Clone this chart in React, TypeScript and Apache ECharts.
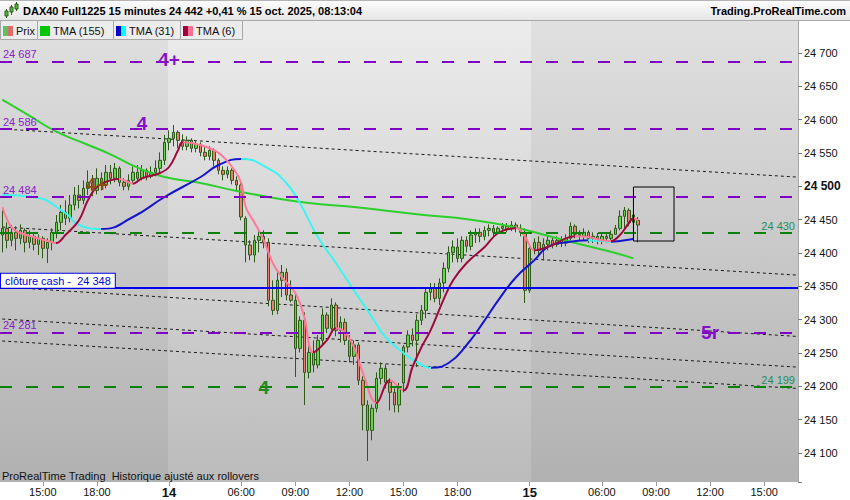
import React, { useEffect, useRef } from 'react';
import * as echarts from 'echarts';

const FONT = '"Liberation Sans", Arial, sans-serif';

// ---------- DATA ----------
// trading sessions shown on the time axis (15-minute bars)
const sessions = [
  { day: '13', start: '12:45', count: 37 },
  { day: '14', start: '02:00', count: 80 },
  { day: '15', start: '02:00', count: 60 },
];
const sessionOpen = '02:00';
const xLabelTimes = ['06:00', '09:00', '12:00', '15:00', '18:00'];

// candles: [open, close, low, high]
const candles: number[][] = [
  [24427, 24437, 24401, 24464], [24437, 24419, 24407, 24446], [24419, 24431, 24410, 24442], [24431, 24422, 24404, 24440],
  [24422, 24434, 24413, 24443], [24434, 24416, 24401, 24437], [24416, 24425, 24407, 24434], [24425, 24413, 24404, 24431],
  [24413, 24422, 24397, 24428], [24422, 24407, 24392, 24425], [24407, 24416, 24385, 24422], [24416, 24431, 24404, 24437],
  [24431, 24446, 24422, 24457], [24446, 24461, 24434, 24472], [24461, 24452, 24442, 24479], [24452, 24472, 24446, 24487],
  [24472, 24487, 24464, 24499], [24487, 24479, 24467, 24502], [24479, 24497, 24473, 24509], [24497, 24506, 24487, 24524],
  [24506, 24494, 24485, 24517], [24494, 24512, 24488, 24527], [24512, 24502, 24494, 24521], [24502, 24521, 24497, 24532],
  [24521, 24512, 24503, 24532], [24512, 24527, 24506, 24535], [24527, 24506, 24500, 24530], [24506, 24500, 24494, 24512],
  [24500, 24509, 24494, 24518], [24509, 24521, 24503, 24530], [24521, 24512, 24506, 24532], [24512, 24524, 24509, 24532],
  [24524, 24515, 24509, 24527], [24515, 24521, 24512, 24530], [24521, 24527, 24515, 24539], [24527, 24539, 24521, 24551],
  [24539, 24566, 24532, 24577], [24566, 24572, 24554, 24584], [24572, 24581, 24560, 24592], [24581, 24569, 24557, 24584],
  [24569, 24560, 24554, 24578], [24560, 24569, 24554, 24575], [24569, 24557, 24551, 24572], [24557, 24563, 24551, 24569],
  [24563, 24551, 24545, 24566], [24551, 24545, 24539, 24560], [24545, 24554, 24539, 24560], [24554, 24539, 24530, 24557],
  [24539, 24524, 24518, 24542], [24524, 24518, 24509, 24530], [24518, 24524, 24512, 24530], [24524, 24509, 24503, 24527],
  [24509, 24502, 24494, 24515], [24502, 24454, 24449, 24506], [24452, 24412, 24386, 24455], [24412, 24397, 24389, 24419],
  [24397, 24419, 24386, 24427], [24419, 24425, 24401, 24434], [24425, 24416, 24407, 24434], [24416, 24329, 24320, 24422],
  [24329, 24314, 24307, 24359], [24314, 24359, 24308, 24371], [24359, 24371, 24334, 24382], [24371, 24337, 24329, 24377],
  [24337, 24329, 24326, 24359], [24329, 24257, 24214, 24341], [24257, 24299, 24251, 24305], [24299, 24221, 24172, 24311],
  [24221, 24251, 24212, 24262], [24251, 24232, 24221, 24269], [24232, 24269, 24227, 24277], [24269, 24307, 24262, 24317],
  [24307, 24287, 24280, 24311], [24287, 24322, 24284, 24332], [24322, 24284, 24275, 24326], [24284, 24296, 24266, 24305],
  [24296, 24269, 24262, 24302], [24269, 24245, 24236, 24277], [24245, 24262, 24232, 24269], [24262, 24209, 24202, 24266],
  [24209, 24172, 24134, 24215], [24172, 24134, 24088, 24179], [24134, 24167, 24119, 24173], [24167, 24212, 24161, 24221],
  [24212, 24227, 24203, 24236], [24227, 24206, 24197, 24233], [24206, 24191, 24164, 24212], [24191, 24172, 24161, 24197],
  [24172, 24197, 24161, 24205], [24205, 24259, 24191, 24262], [24259, 24277, 24251, 24284], [24277, 24269, 24260, 24287],
  [24269, 24299, 24229, 24308], [24299, 24314, 24292, 24322], [24314, 24341, 24302, 24347], [24341, 24347, 24329, 24355],
  [24347, 24332, 24326, 24355], [24332, 24355, 24322, 24362], [24355, 24377, 24341, 24386], [24377, 24401, 24371, 24410],
  [24401, 24409, 24386, 24419], [24409, 24392, 24386, 24422], [24392, 24419, 24386, 24425], [24419, 24410, 24401, 24425],
  [24410, 24427, 24404, 24434], [24427, 24431, 24415, 24437], [24431, 24425, 24416, 24437], [24425, 24434, 24419, 24440],
  [24434, 24437, 24425, 24443], [24437, 24431, 24425, 24442], [24431, 24437, 24428, 24440], [24437, 24440, 24431, 24445],
  [24440, 24436, 24431, 24445], [24436, 24442, 24433, 24448], [24442, 24437, 24431, 24446], [24437, 24431, 24425, 24443],
  [24431, 24344, 24325, 24437], [24344, 24407, 24340, 24413], [24407, 24416, 24398, 24422], [24416, 24404, 24395, 24425],
  [24404, 24413, 24389, 24422], [24413, 24419, 24404, 24425], [24419, 24413, 24407, 24425], [24413, 24419, 24409, 24425],
  [24419, 24415, 24409, 24425], [24415, 24422, 24410, 24428], [24422, 24440, 24419, 24446], [24440, 24428, 24422, 24443],
  [24428, 24425, 24419, 24434], [24425, 24431, 24419, 24437], [24431, 24422, 24415, 24434], [24422, 24425, 24415, 24431],
  [24425, 24419, 24413, 24430], [24419, 24425, 24413, 24431], [24425, 24422, 24416, 24431], [24422, 24428, 24419, 24434],
  [24428, 24437, 24428, 24442], [24437, 24455, 24434, 24464], [24455, 24464, 24437, 24469], [24464, 24446, 24440, 24467],
  [24446, 24457, 24428, 24461], [24449, 24442, 24416, 24454],
];

// triangular moving averages: [bar index, value]
const tma155: number[][] = [
  [0, 24630], [6, 24606], [12, 24582], [18, 24565], [24, 24548], [30, 24528], [36, 24514], [44, 24505],
  [52, 24493], [60, 24483], [68, 24475], [78, 24469], [92, 24458], [104, 24450], [114, 24438], [122, 24424],
  [130, 24410], [136, 24400], [140, 24392],
];
const tma31: number[][] = [
  [0, 24487], [7, 24484], [14, 24460], [17, 24442], [22, 24436], [29, 24454], [36, 24484], [44, 24514],
  [48, 24532], [53, 24541], [59, 24527], [63, 24505], [66, 24475], [70, 24424], [74, 24385], [78, 24344],
  [82, 24304], [85, 24274], [89, 24250], [92, 24236], [95, 24228], [99, 24235], [103, 24262], [107, 24299],
  [110, 24329], [114, 24364], [118, 24389], [121, 24409], [125, 24416], [130, 24419], [133, 24418], [135, 24417],
  [137, 24418], [140, 24421],
];
const tma6: number[][] = [
  [0, 24469], [2, 24439], [4, 24430], [7, 24424], [11, 24416], [12, 24415], [14, 24427], [17, 24449],
  [19, 24479], [21, 24499], [24, 24509], [26, 24511], [29, 24504], [31, 24512], [35, 24520], [37, 24529],
  [39, 24554], [40, 24566], [44, 24562], [48, 24550], [51, 24529], [53, 24505], [54, 24469], [56, 24445],
  [58, 24419], [60, 24385], [62, 24364], [65, 24340], [67, 24304], [69, 24251], [72, 24269], [74, 24287],
  [76, 24281], [78, 24259], [80, 24220], [83, 24175], [86, 24209], [89, 24194], [91, 24229], [93, 24259],
  [95, 24284], [98, 24332], [100, 24359], [103, 24385], [107, 24409], [110, 24430], [114, 24437], [116, 24424],
  [118, 24404], [122, 24412], [125, 24422], [127, 24425], [130, 24424], [133, 24419], [135, 24418], [137, 24427],
  [139, 24445], [140, 24452], [141, 24449],
];

// horizontal price levels
const purpleLevels = [24687, 24586, 24484, 24281];
const greenLevels = [24430, 24199];
const cashClose = 24348;

// dotted channel lines: [start bar, start price, end bar, end price]
const channelLines: number[][] = [
  [0, 24586, 176, 24514],
  [0, 24439, 176, 24367],
  [0, 24349, 176, 24275],
  [0, 24301, 176, 24229],
  [0, 24268, 176, 24197],
];

// zone box: [from bar, to bar, high, low]
const zoneBox = [140, 149, 24499, 24418];

// annotations: [text, bar, price]
const upperNotes: [string, number, number][] = [
  ['4+', 37, 24690],
  ['4', 31, 24594],
  ['5r', 157, 24281],
];
const greenNotes: [string, number, number][] = [['4', 58, 24199]];
const brownNotes: [string, number, number][] = [['4+', 21, 24503]];

const titleText = 'DAX40 Full1225 15 minutes 24 442 +0,41 % 15 oct. 2025, 08:13:04';
const siteText = 'Trading.ProRealTime.com';
const footerText = 'ProRealTime Trading  Historique ajusté aux rollovers';
const legendNames = ['Prix', 'TMA (155)', 'TMA (31)', 'TMA (6)'];

// ---------- STYLE ----------
const PURPLE = '#8000c4';
const GREEN_LVL = '#0a820a';
const UP = '#62d648';
const DOWN = '#e8826c';
const WICK = '#2d5a18';

const fmtPrice = (v: number) => String(Math.round(v)).replace(/\B(?=(\d{3})+(?!\d))/g, ' ');

function buildCategories() {
  const out: string[] = [];
  sessions.forEach((s) => {
    const [h, m] = s.start.split(':').map(Number);
    let t = h * 60 + m;
    for (let i = 0; i < s.count; i++) {
      const hh = String(Math.floor(t / 60)).padStart(2, '0');
      const mm = String(t % 60).padStart(2, '0');
      out.push(`${s.day} ${hh}:${mm}`);
      t += 15;
    }
  });
  return out;
}

function directionPieces(points: number[][], up: string, down: string) {
  const pieces: any[] = [];
  let segStart = points[0][0];
  let dir = 0;
  for (let i = 1; i < points.length; i++) {
    const d = Math.sign(points[i][1] - points[i - 1][1]) || dir || 1;
    if (dir !== 0 && d !== dir) {
      pieces.push({ gte: segStart, lt: points[i - 1][0], color: dir > 0 ? up : down });
      segStart = points[i - 1][0];
    }
    dir = d;
  }
  pieces.push({ gte: segStart, lte: points[points.length - 1][0] + 1, color: dir > 0 ? up : down });
  return pieces;
}

function noteItems(notes: [string, number, number][], color: string, size = 19) {
  return notes.map(([text, bar, price]) => ({
    coord: [bar, price],
    label: {
      show: true,
      position: 'inside',
      formatter: text,
      color,
      fontSize: size,
      fontWeight: 'bold',
      fontFamily: FONT,
    },
  }));
}

export default function App() {
  const ref = useRef<HTMLDivElement>(null);

  useEffect(() => {
    document.body.style.margin = '0';
    if (!ref.current) return;
    const chart = echarts.init(ref.current, undefined, { renderer: 'svg' });
    const categories = buildCategories();
    const isLabel = (_i: number, v: string) => {
      const t = v.split(' ')[1];
      return t === sessionOpen || xLabelTimes.includes(t);
    };
    const lastClose = candles[candles.length - 1][1];

    const levelLines: any[] = [];
    purpleLevels.forEach((v) =>
      levelLines.push({
        yAxis: v,
        lineStyle: { color: PURPLE, width: 2, type: [12, 14] },
        label: {
          show: true, position: 'insideStartTop', distance: [3, 2], formatter: fmtPrice(v),
          color: '#8a20c8', fontSize: 11, fontFamily: FONT,
        },
      })
    );
    greenLevels.forEach((v) =>
      levelLines.push({
        yAxis: v,
        lineStyle: { color: GREEN_LVL, width: 2, type: [12, 14] },
        label: {
          show: true, position: 'insideEndTop', distance: [3, 2], formatter: fmtPrice(v),
          color: '#1d8f62', fontSize: 11, fontFamily: FONT,
        },
      })
    );
    levelLines.push({
      yAxis: cashClose,
      lineStyle: { color: '#0000f0', width: 2, type: 'solid' },
      label: {
        show: true, position: 'insideStartTop', distance: [1, 0],
        formatter: 'clôture cash -  ' + fmtPrice(cashClose),
        color: '#0000e0', fontSize: 11, fontFamily: FONT,
        backgroundColor: '#ffffff', borderColor: '#0000e0', borderWidth: 1, padding: [2, 4, 1, 4],
      },
    });
    levelLines.push({
      yAxis: lastClose,
      lineStyle: { width: 0, opacity: 0 },
      label: {
        show: true, position: 'end', distance: 5, formatter: fmtPrice(lastClose),
        color: '#000', fontSize: 11, fontFamily: FONT,
        backgroundColor: '#ffc800', borderColor: '#c9a000', borderWidth: 1, padding: [1, 2, 0, 2],
      },
    });

    const series: any[] = [];
    channelLines.forEach((c, i) =>
      series.push({
        type: 'line', z: 1, silent: true, symbol: 'none',
        data: [[c[0], c[1]], [c[2], c[3]]],
        lineStyle: { color: '#1a1a1a', width: 1, type: [3, 3] },
        markPoint: i === 0
          ? { silent: true, symbol: 'circle', symbolSize: 0, data: noteItems(brownNotes, '#8a5010') }
          : undefined,
      })
    );
    series.push({
      type: 'candlestick', z: 2, barWidth: 3,
      data: candles,
      itemStyle: { color: UP, color0: DOWN, borderColor: WICK, borderColor0: WICK, borderWidth: 1 },
      markLine: { silent: true, symbol: ['none', 'none'], data: levelLines },
    });
    const tmaStart = series.length;
    series.push({ type: 'line', z: 3, symbol: 'none', smooth: 0.5, data: tma155, lineStyle: { width: 2, color: '#2ccf2c' } });
    series.push({ type: 'line', z: 3, symbol: 'none', smooth: 0.5, data: tma31, lineStyle: { width: 2 } });
    series.push({ type: 'line', z: 3, symbol: 'none', smooth: 0.4, data: tma6, lineStyle: { width: 2 } });
    series.push({
      type: 'line', z: 5, silent: true, symbol: 'none',
      data: [
        [zoneBox[0], zoneBox[2]], [zoneBox[1], zoneBox[2]], [zoneBox[1], zoneBox[3]],
        [zoneBox[0], zoneBox[3]], [zoneBox[0], zoneBox[2]],
      ],
      lineStyle: { color: '#000', width: 1 },
      markPoint: {
        silent: true, symbol: 'circle', symbolSize: 0,
        data: [...noteItems(upperNotes, '#8410c8'), ...noteItems(greenNotes, '#1f8a1f')],
      },
    });

    // legend boxes (drawn as UI)
    const legendBoxes = [
      { x: 0, w: 37, c: ['#5cc35c', '#e06a6a'] },
      { x: 37, w: 76, c: ['#00c800', '#00c800'] },
      { x: 113, w: 67, c: ['#0000c8', '#00ffff'] },
      { x: 180, w: 62, c: ['#a0003c', '#ff6e96'] },
    ];
    const legendGraphics: any[] = [];
    legendBoxes.forEach((b, i) => {
      legendGraphics.push({
        type: 'rect', z: 40, shape: { x: b.x + 0.5, y: 20.5, width: b.w, height: 19 },
        style: { fill: '#ececec', stroke: '#a8a8a8', lineWidth: 1 },
      });
      legendGraphics.push({ type: 'rect', z: 41, shape: { x: b.x + 3, y: 26, width: 5, height: 10 }, style: { fill: b.c[0] } });
      legendGraphics.push({ type: 'rect', z: 41, shape: { x: b.x + 8, y: 26, width: 5, height: 10 }, style: { fill: b.c[1] } });
      legendGraphics.push({
        type: 'text', z: 41, x: b.x + 16, y: 31,
        style: { text: legendNames[i], fill: '#111', font: `11px ${FONT}`, verticalAlign: 'middle' },
      });
    });

    const bgGrad = (top: string, bottom: string) =>
      new echarts.graphic.LinearGradient(0, 0, 0, 1, [
        { offset: 0, color: top },
        { offset: 1, color: bottom },
      ]);

    const option: any = {
      animation: false,
      textStyle: { fontFamily: FONT },
      grid: { left: -1, right: 52, top: 20, bottom: 18 },
      xAxis: {
        type: 'category',
        data: categories,
        boundaryGap: true,
        axisLine: { show: false },
        axisTick: { show: true, interval: isLabel, alignWithLabel: true, length: 4, lineStyle: { color: '#999' } },
        axisLabel: {
          interval: isLabel,
          margin: 4,
          fontSize: 11,
          color: '#111',
          fontFamily: FONT,
          formatter: (v: string) => {
            const [d, t] = v.split(' ');
            return t === sessionOpen ? `{day|${d}}` : t;
          },
          rich: { day: { fontSize: 13, fontWeight: 'bold', color: '#111', fontFamily: FONT } },
        },
        splitLine: { show: false },
      },
      yAxis: {
        type: 'value',
        position: 'right',
        min: 24056.5,
        max: 24749.5,
        splitNumber: 14,
        axisLine: { show: true, lineStyle: { color: '#a8a8a8' } },
        axisTick: { show: true, length: 4, lineStyle: { color: '#777' } },
        splitLine: { show: false },
        axisLabel: {
          margin: 6,
          fontSize: 11,
          color: '#111',
          fontFamily: FONT,
          formatter: (v: number) => {
            if (Math.abs(v % 50) > 0.01) return '';
            const s = fmtPrice(v);
            return v % 500 === 0 ? `{b|${s}}` : s;
          },
          rich: { b: { fontWeight: 'bold', fontSize: 12, color: '#111', fontFamily: FONT } },
        },
      },
      visualMap: [
        { show: false, type: 'piecewise', seriesIndex: tmaStart + 1, dimension: 0, pieces: directionPieces(tma31, '#1515d0', '#3cf4f4') },
        { show: false, type: 'piecewise', seriesIndex: tmaStart + 2, dimension: 0, pieces: directionPieces(tma6, '#9e0a3c', '#ff7898') },
      ],
      graphic: [
        { type: 'rect', z: -1, silent: true, shape: { x: 0, y: 20, width: 168, height: 462 }, style: { fill: bgGrad('#e0e0e0', '#b1b1b1') } },
        { type: 'rect', z: -1, silent: true, shape: { x: 168, y: 20, width: 363, height: 462 }, style: { fill: bgGrad('#ececec', '#bbbbbb') } },
        { type: 'rect', z: -1, silent: true, shape: { x: 531, y: 20, width: 267, height: 462 }, style: { fill: bgGrad('#e0e0e0', '#b1b1b1') } },
        // header
        { type: 'rect', z: 40, shape: { x: 0, y: 0, width: 850, height: 20 }, style: { fill: bgGrad('#fdfdfd', '#e6e6e6') } },
        { type: 'line', z: 41, shape: { x1: 0, y1: 0.5, x2: 850, y2: 0.5 }, style: { stroke: '#b4b4b4', lineWidth: 1 } },
        { type: 'line', z: 41, shape: { x1: 0, y1: 20.5, x2: 850, y2: 20.5 }, style: { stroke: '#a8a8a8', lineWidth: 1 } },
        { type: 'line', z: 41, shape: { x1: 6.5, y1: 9, x2: 6.5, y2: 18 }, style: { stroke: WICK, lineWidth: 1 } },
        { type: 'rect', z: 42, shape: { x: 5, y: 11, width: 3, height: 5 }, style: { fill: '#4cc040', stroke: WICK, lineWidth: 1 } },
        { type: 'line', z: 41, shape: { x1: 11.5, y1: 5, x2: 11.5, y2: 15 }, style: { stroke: WICK, lineWidth: 1 } },
        { type: 'rect', z: 42, shape: { x: 10, y: 7, width: 3, height: 5 }, style: { fill: '#4cc040', stroke: WICK, lineWidth: 1 } },
        { type: 'line', z: 41, shape: { x1: 16.5, y1: 2, x2: 16.5, y2: 11 }, style: { stroke: WICK, lineWidth: 1 } },
        { type: 'rect', z: 42, shape: { x: 15, y: 4, width: 3, height: 5 }, style: { fill: '#4cc040', stroke: WICK, lineWidth: 1 } },
        {
          type: 'text', z: 42, x: 23, y: 11,
          style: { text: titleText, fill: '#000', font: `bold 11px ${FONT}`, verticalAlign: 'middle' },
        },
        {
          type: 'text', z: 42, x: 846, y: 11,
          style: { text: siteText, fill: '#000', font: `bold 11px ${FONT}`, verticalAlign: 'middle', align: 'right' },
        },
        ...legendGraphics,
        {
          type: 'text', z: 40, x: 2, y: 476,
          style: { text: footerText, fill: '#111', font: `11px ${FONT}`, verticalAlign: 'middle' },
        },
      ],
      series,
    };

    chart.setOption(option);
    return () => chart.dispose();
  }, []);

  return <div ref={ref} style={{ width: 850, height: 500 }} />;
}
